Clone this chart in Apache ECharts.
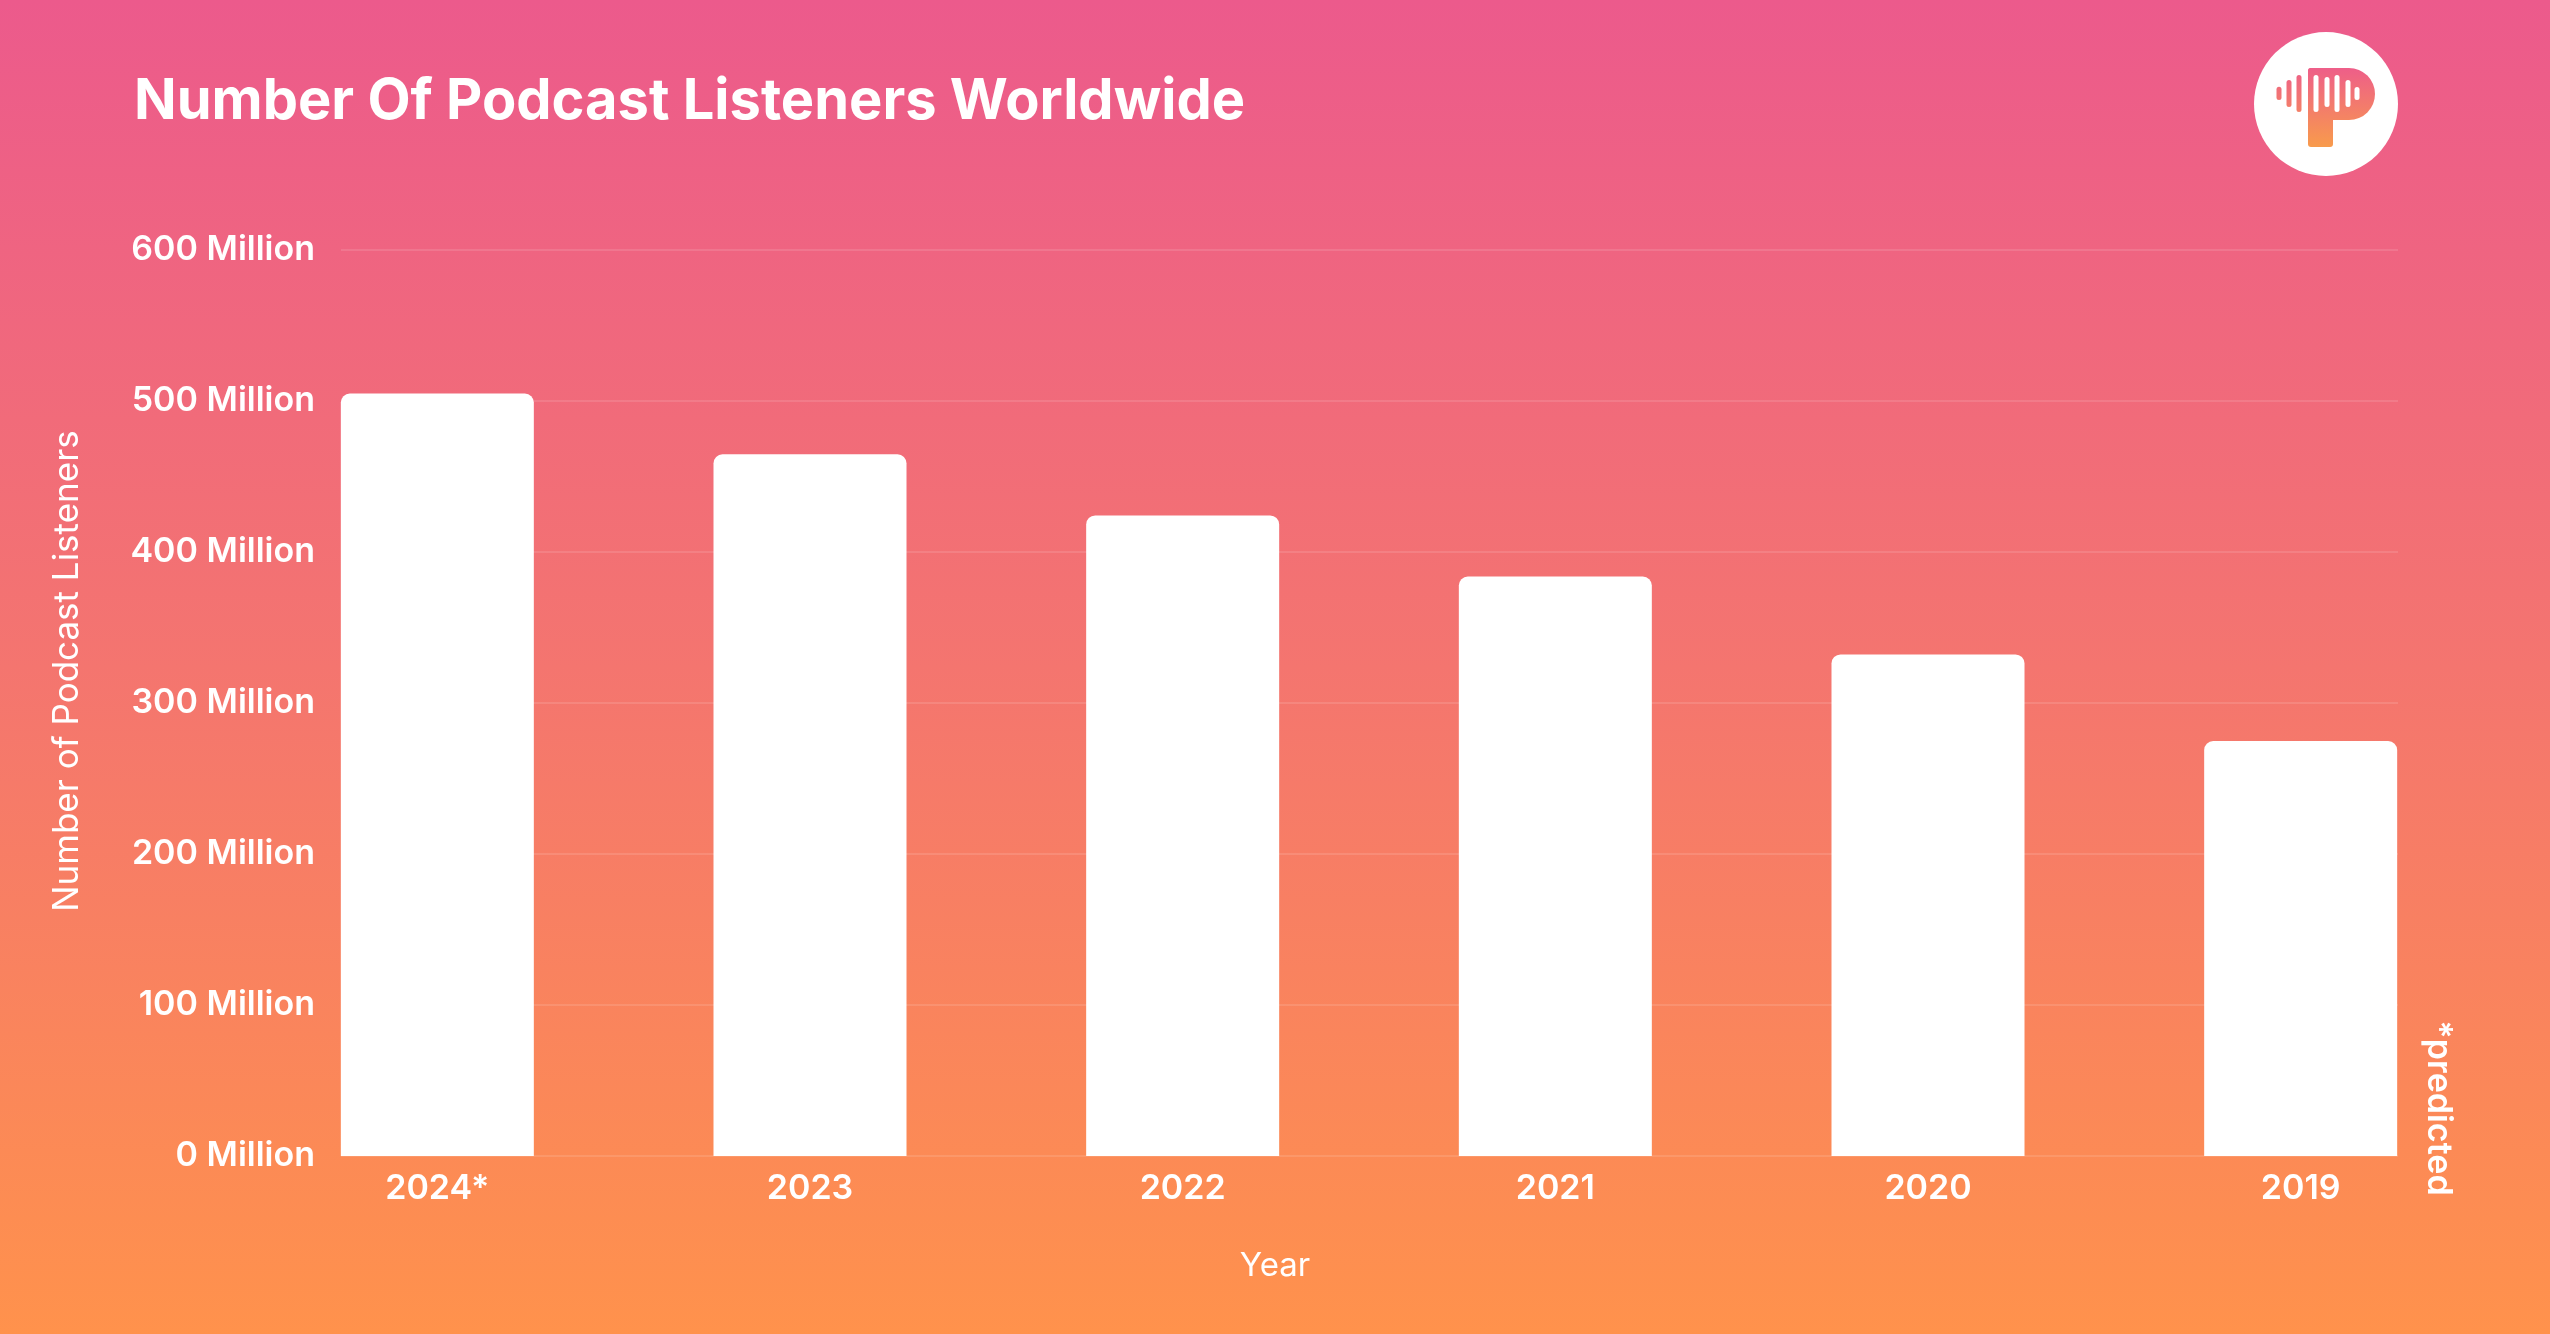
<!DOCTYPE html>
<html>
<head>
<meta charset="utf-8">
<script src="https://cdn.jsdelivr.net/npm/echarts@6/dist/echarts.min.js"></script>
<style>
  html, body { margin: 0; padding: 0; }
  #chart { width: 2550px; height: 1334px; }
</style>
</head>
<body>
<div id="chart"></div>
<script>
// ---- data ----
const categories = ['2024*', '2023', '2022', '2021', '2020', '2019'];
const listeners = [504.9, 464.7, 424.2, 383.7, 332.2, 274.8];
const yMin = 0;
const yMax = 600;
const yInterval = 100;
const yUnit = 'Million';
const titleText = 'Number Of Podcast Listeners Worldwide';
const xName = 'Year';
const yName = 'Number of Podcast Listeners';
const noteText = '*predicted';

const chart = echarts.init(document.getElementById('chart'));
const FONT = 'Inter, "Noto Sans", sans-serif';

const pGrad = new echarts.graphic.LinearGradient(0, 68, 0, 147, [
  { offset: 0, color: '#EE5E89' },
  { offset: 1, color: '#F89B4C' }
], true);

function bar(cx, y1, y2, fill) {
  return {
    type: 'rect',
    shape: { x: cx - 2.5, y: y1, width: 5, height: y2 - y1, r: 2.5 },
    style: { fill: fill },
    z: 12
  };
}

const option = {
  backgroundColor: new echarts.graphic.LinearGradient(0, 0, 0, 1, [
    { offset: 0, color: '#EC5A8C' },
    { offset: 0.5, color: '#F4756F' },
    { offset: 1, color: '#FF924C' }
  ]),
  title: [
    {
      text: titleText,
      left: 129,
      top: 69,
      textStyle: { color: '#fff', fontSize: 56, fontWeight: 700, fontFamily: FONT }
    },
    {
      text: xName,
      left: 'center',
      top: 1245,
      textStyle: { color: '#fff', fontSize: 33, fontWeight: 400, fontFamily: FONT }
    }
  ],
  grid: [
    { left: 251, right: 63, top: 250, bottom: 178 },
    { left: 341, right: 152, top: 250, bottom: 178 }
  ],
  xAxis: [
    {
      gridIndex: 0,
      type: 'category',
      data: categories,
      axisLine: { show: false },
      axisTick: { show: false },
      axisLabel: { color: '#fff', fontSize: 34, fontWeight: 600, fontFamily: FONT, margin: 16 }
    },
    { gridIndex: 1, type: 'value', min: 0, max: 1, show: false }
  ],
  yAxis: [
    { gridIndex: 0, type: 'value', min: yMin, max: yMax, interval: yInterval, show: false },
    {
      gridIndex: 1,
      type: 'value',
      min: yMin,
      max: yMax,
      interval: yInterval,
      axisLine: { show: false },
      axisTick: { show: false },
      axisLabel: {
        color: '#fff', fontSize: 34, fontWeight: 600, fontFamily: FONT, margin: 26,
        padding: [10, 0, 0, 0],
        formatter: v => v + ' ' + yUnit
      },
      splitLine: { lineStyle: { color: 'rgba(255,255,255,0.16)', width: 1.5 } }
    }
  ],
  series: [
    {
      type: 'bar',
      xAxisIndex: 0,
      yAxisIndex: 0,
      data: listeners,
      barWidth: 193,
      itemStyle: { color: '#fff', borderRadius: [9, 9, 0, 0] },
      silent: true
    }
  ],
  graphic: [
    {
      type: 'text',
      x: 67,
      y: 671,
      rotation: Math.PI / 2,
      style: { text: yName, fill: '#fff', fontSize: 35, fontWeight: 400, fontFamily: FONT, align: 'center', verticalAlign: 'middle' }
    },
    {
      type: 'text',
      x: 2438,
      y: 1108,
      rotation: -Math.PI / 2,
      style: { text: noteText, fill: '#fff', fontSize: 34, fontWeight: 600, fontFamily: FONT, align: 'center', verticalAlign: 'middle' }
    },
    { type: 'circle', shape: { cx: 2326, cy: 104, r: 72 }, style: { fill: '#fff' }, z: 10 },
    { type: 'rect', shape: { x: 2308, y: 68, width: 67, height: 52, r: [3, 26, 26, 0] }, style: { fill: pGrad }, z: 11 },
    { type: 'rect', shape: { x: 2308, y: 68, width: 25, height: 79, r: [3, 0, 3, 3] }, style: { fill: pGrad }, z: 11 },
    bar(2279, 86.7, 100, pGrad),
    bar(2289, 80, 107, pGrad),
    bar(2299, 75, 112, pGrad),
    bar(2316, 75, 112, '#fff'),
    bar(2327, 77, 107, '#fff'),
    bar(2337, 75, 112, '#fff'),
    bar(2348, 80, 107, '#fff'),
    bar(2357, 87, 100, '#fff')
  ]
};
chart.setOption(option);
</script>
</body>
</html>
